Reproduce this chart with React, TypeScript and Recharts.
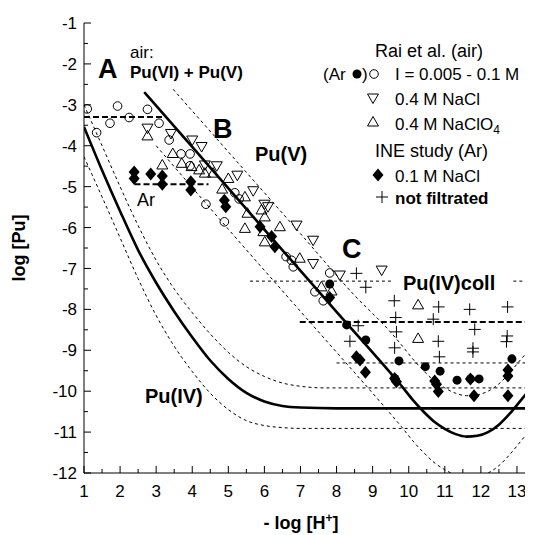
import { ComposedChart, XAxis, YAxis, Line, Scatter } from "recharts";

const font = '"Liberation Sans", Arial, sans-serif';

// tick positions (labels only on integers)
const xTicks = [1, 1.5, 2, 2.5, 3, 3.5, 4, 4.5, 5, 5.5, 6, 6.5, 7, 7.5, 8, 8.5, 9, 9.5, 10, 10.5, 11, 11.5, 12, 12.5, 13, 13.5];
const yTicks = [-12, -11.5, -11, -10.5, -10, -9.5, -9, -8.5, -8, -7.5, -7, -6.5, -6, -5.5, -5, -4.5, -4, -3.5, -3, -2.5, -2, -1.5, -1];

// Rai et al. (air), I = 0.005 - 0.1 M
const circlesAir = [[1.09, -3.1], [1.35, -3.68], [1.72, -3.45], [1.93, -3.03], [2.25, -3.31], [2.76, -3.11], [3.08, -3.45], [3.36, -3.86], [3.69, -4.2], [3.94, -4.2], [3.94, -4.49], [4.38, -5.43], [4.89, -5.86], [5.18, -5.15], [5.3, -5.3], [6.6, -6.71], [6.75, -6.8], [6.8, -6.96], [7.81, -7.11], [7.4, -7.57], [7.63, -7.79]];
// same, under Ar
const circlesAr = [[7.81, -7.38], [8.28, -8.38], [8.81, -8.75], [9.73, -9.26], [9.61, -9.69], [10.46, -9.4], [10.87, -9.51], [11.34, -9.73], [11.71, -9.7], [11.95, -9.7], [12.86, -9.21]];
// 0.4 M NaCl
const triDownNaCl = [[2.76, -3.57], [3.41, -3.7], [4.0, -3.86], [4.26, -4.02], [4.35, -4.47], [4.68, -4.49], [5.25, -4.72], [5.69, -5.1], [6.0, -5.43], [6.1, -5.49], [6.89, -5.94], [7.35, -6.31], [7.35, -6.88], [8.09, -7.16], [9.25, -7.04]];
// 0.4 M NaClO4
const triUpClO4 = [[2.76, -3.76], [3.17, -4.47], [3.46, -4.19], [3.71, -4.43], [3.98, -4.51], [4.19, -4.59], [4.35, -4.67], [4.58, -4.67], [5.0, -4.8], [4.83, -5.06], [5.46, -5.25], [5.53, -5.65], [5.46, -6.02], [5.92, -5.57], [5.97, -6.1], [6.01, -6.35], [6.01, -5.74], [6.43, -5.98], [6.98, -6.75], [7.58, -7.45], [7.86, -7.55], [10.26, -7.89], [10.26, -8.71]];
// INE study, 0.1 M NaCl
const diamondsIne = [[2.39, -4.64], [2.39, -4.8], [2.85, -4.69], [3.17, -4.74], [3.17, -4.94], [3.96, -4.88], [3.96, -5.08], [4.89, -5.33], [4.93, -5.49], [5.88, -5.98], [6.2, -6.22], [6.29, -6.47], [7.81, -7.71], [8.55, -9.16], [8.65, -9.24], [8.8, -9.54], [9.61, -9.69], [9.66, -9.77], [10.72, -9.75], [10.77, -9.83], [10.82, -10.01], [11.71, -9.7], [11.81, -10.11], [12.75, -9.48], [12.75, -9.63], [12.75, -10.11]];
// not filtrated
const plusNotFiltrated = [[8.55, -7.12], [8.81, -7.46], [8.6, -8.4], [8.37, -8.78], [9.6, -7.79], [9.64, -8.2], [9.66, -8.55], [9.61, -8.94], [10.83, -7.94], [10.68, -8.24], [10.82, -8.78], [10.85, -9.16], [11.69, -8.0], [11.83, -8.49], [11.78, -8.95], [11.78, -9.04], [12.74, -7.94], [12.73, -8.65], [12.71, -8.79]];

// model curves
const puVCurve = [[2.67, -2.69], [4, -4.03], [6, -6.05], [8, -8.06], [9.5, -9.56], [9.8, -9.87], [10.1, -10.2], [10.4, -10.49], [10.7, -10.74], [11.0, -10.92], [11.3, -11.05], [11.6, -11.11], [11.9, -11.09], [12.2, -11.0], [12.5, -10.82], [12.8, -10.55], [13.1, -10.23], [13.5, -9.8]];
const puVUpper = [[3.47, -2.62], [5, -4.15], [7, -6.15], [8.5, -7.66], [9.5, -8.56], [9.8, -8.87], [10.1, -9.2], [10.4, -9.49], [10.7, -9.74], [11.0, -9.92], [11.3, -10.05], [11.6, -10.11], [11.9, -10.09], [12.2, -10.0], [12.5, -9.82], [12.8, -9.55], [13.1, -9.23], [13.5, -8.85]];
const puVLower = [[3.0, -4.0], [5, -6.04], [7, -8.05], [9.5, -10.56], [9.8, -10.87], [10.1, -11.2], [10.4, -11.49], [10.7, -11.74], [11.0, -11.92], [11.3, -12.05], [11.6, -12.11], [11.9, -12.09], [12.2, -12.0], [12.5, -11.82], [12.8, -11.55], [13.1, -11.23], [13.5, -10.8]];
const puIVCurve = [[1.0, -3.54], [1.5, -4.6], [2.0, -5.6], [2.5, -6.55], [3.0, -7.35], [3.5, -8.05], [4.0, -8.68], [4.5, -9.25], [5.0, -9.7], [5.5, -10.04], [6.0, -10.25], [6.5, -10.36], [7.0, -10.4], [8.0, -10.42], [13.5, -10.42]];
const puIVUpper = [[1.0, -3.0], [1.5, -4.0], [2.0, -5.0], [2.5, -5.95], [3.0, -6.8], [3.5, -7.5], [4.0, -8.08], [4.5, -8.6], [5.0, -9.05], [5.5, -9.4], [6.0, -9.64], [6.5, -9.8], [7.0, -9.88], [7.7, -9.92], [13.5, -9.92]];
const puIVLower = [[1.0, -4.27], [1.5, -5.25], [2.0, -6.25], [2.5, -7.25], [3.0, -8.15], [3.5, -8.9], [4.0, -9.52], [4.5, -10.05], [5.0, -10.45], [5.5, -10.72], [6.0, -10.84], [6.5, -10.89], [7.0, -10.91], [13.5, -10.91]];
const airLevel = [[1, -3.3], [3.2, -3.3]];
const arLevel = [[2.4, -4.94], [4.45, -4.94]];
const collMean = [[6.98, -8.31], [13.5, -8.31]];
const collUpperA = [[5.6, -7.31], [9.57, -7.31]];
const collUpperB = [[12.9, -7.31], [13.5, -7.31]];
const collLower = [[8.0, -9.31], [13.5, -9.31]];

const pts = (a: number[][]) => a.map(([x, y]) => ({ x, y }));

const OpenCircle = ({ cx, cy }: any) => <circle cx={cx} cy={cy} r={4.3} fill="none" stroke="#000" strokeWidth={1} />;
const FilledCircle = ({ cx, cy }: any) => <circle cx={cx} cy={cy} r={4.5} fill="#000" />;
const TriDown = ({ cx, cy }: any) => (
  <path d={`M${cx - 5.5},${cy - 4} L${cx + 5.5},${cy - 4} L${cx},${cy + 5.5} Z`} fill="none" stroke="#000" strokeWidth={1} />
);
const TriUp = ({ cx, cy }: any) => (
  <path d={`M${cx - 5.5},${cy + 4} L${cx + 5.5},${cy + 4} L${cx},${cy - 5.5} Z`} fill="none" stroke="#000" strokeWidth={1} />
);
const Diamond = ({ cx, cy }: any) => (
  <path d={`M${cx},${cy - 6.5} L${cx + 5.5},${cy} L${cx},${cy + 6.5} L${cx - 5.5},${cy} Z`} fill="#000" />
);
const Plus = ({ cx, cy }: any) => (
  <path d={`M${cx - 6},${cy} L${cx + 6},${cy} M${cx},${cy - 6} L${cx},${cy + 6}`} stroke="#000" strokeWidth={1} />
);

const BottomTick = ({ x, y, payload }: any) => {
  const major = Number.isInteger(payload.value);
  return (
    <g>
      <line x1={x} y1={y} x2={x} y2={y - (major ? 7 : 4)} stroke="#000" />
      {major && (
        <text x={x} y={y + 24} textAnchor="middle" fontSize={17} fontFamily={font} fill="#000">
          {payload.value}
        </text>
      )}
    </g>
  );
};
const TopTick = ({ x, y, payload }: any) => {
  const major = Number.isInteger(payload.value);
  return <line x1={x} y1={y} x2={x} y2={y + (major ? 7 : 4)} stroke="#000" />;
};
const LeftTick = ({ x, y, payload }: any) => {
  const major = Number.isInteger(payload.value);
  return (
    <g>
      <line x1={x} y1={y} x2={x + (major ? 7 : 4)} y2={y} stroke="#000" />
      {major && (
        <text x={x - 7} y={y} dy="0.36em" textAnchor="end" fontSize={17} fontFamily={font} fill="#000">
          {payload.value}
        </text>
      )}
    </g>
  );
};
const RightTick = ({ x, y, payload }: any) => {
  const major = Number.isInteger(payload.value);
  return <line x1={x} y1={y} x2={x - (major ? 7 : 4)} y2={y} stroke="#000" />;
};

const thin = { stroke: "#000", strokeWidth: 1, strokeDasharray: "3 3" };
const bold = { stroke: "#000", strokeWidth: 2, strokeDasharray: "6 3" };

export default function App() {
  const curve = (data: number[][], style: any, type: any = "monotone") => (
    <Line data={pts(data)} dataKey="y" type={type} dot={false} activeDot={false} isAnimationActive={false} {...style} />
  );
  return (
    <div style={{ position: "relative", width: 525, height: 527, overflow: "hidden", fontFamily: font }}>
      <ComposedChart width={540} height={527} margin={{ top: 15, right: 13, bottom: 22, left: 16 }}>
        <XAxis dataKey="x" type="number" domain={[1, 13.5]} ticks={xTicks} interval={0} allowDataOverflow
          tickSize={0} tickMargin={0} tickLine={false} tick={<BottomTick />} axisLine={{ stroke: "#000" }} height={40} />
        <XAxis xAxisId="top" orientation="top" type="number" domain={[1, 13.5]} ticks={xTicks} interval={0}
          tickSize={0} tickMargin={0} tickLine={false} tick={<TopTick />} axisLine={{ stroke: "#000" }} height={0} />
        <YAxis dataKey="y" type="number" domain={[-12, -1]} ticks={yTicks} interval={0} allowDataOverflow
          tickSize={0} tickMargin={0} tickLine={false} tick={<LeftTick />} axisLine={{ stroke: "#000" }} width={60} />
        <YAxis yAxisId="right" orientation="right" type="number" domain={[-12, -1]} ticks={yTicks} interval={0}
          tickSize={0} tickMargin={0} tickLine={false} tick={<RightTick />} axisLine={{ stroke: "#000" }} width={0} />

        {curve(puIVUpper, thin)}
        {curve(puIVLower, thin)}
        {curve(puVUpper, thin)}
        {curve(puVLower, thin)}
        {curve(collUpperA, thin, "linear")}
        {curve(collUpperB, thin, "linear")}
        {curve(collLower, thin, "linear")}
        {curve(collMean, bold, "linear")}
        {curve(airLevel, bold, "linear")}
        {curve(arLevel, bold, "linear")}
        {curve(puIVCurve, { stroke: "#000", strokeWidth: 2.6 })}
        {curve(puVCurve, { stroke: "#000", strokeWidth: 2.6 })}

        <Scatter data={pts(circlesAir)} shape={<OpenCircle />} isAnimationActive={false} />
        <Scatter data={pts(triDownNaCl)} shape={<TriDown />} isAnimationActive={false} />
        <Scatter data={pts(triUpClO4)} shape={<TriUp />} isAnimationActive={false} />
        <Scatter data={pts(plusNotFiltrated)} shape={<Plus />} isAnimationActive={false} />
        <Scatter data={pts(circlesAr)} shape={<FilledCircle />} isAnimationActive={false} />
        <Scatter data={pts(diamondsIne)} shape={<Diamond />} isAnimationActive={false} />
      </ComposedChart>

      <svg width={525} height={527} style={{ position: "absolute", left: 0, top: 0, pointerEvents: "none" }} fontFamily={font}>
        <text x={90} y={70} fontSize={27} fontWeight="bold">A</text>
        <text x={122} y={50} fontSize={17}>air:</text>
        <text x={122} y={70} fontSize={17} fontWeight="bold">Pu(VI) + Pu(V)</text>
        <text x={205} y={130} fontSize={27} fontWeight="bold">B</text>
        <text x={247} y={153} fontSize={20} fontWeight="bold">Pu(V)</text>
        <text x={334} y={250} fontSize={27} fontWeight="bold">C</text>
        <text x={395} y={282} fontSize={20} fontWeight="bold">Pu(IV)coll</text>
        <text x={137} y={395} fontSize={20} fontWeight="bold">Pu(IV)</text>
        <text x={129} y={198} fontSize={18}>Ar</text>

        <text x={367} y={49} fontSize={18}>Rai et al. (air)</text>
        <text x={315} y={72} fontSize={17}>(Ar</text>
        <FilledCircle cx={349} cy={66} />
        <text x={354} y={72} fontSize={17}>)</text>
        <OpenCircle cx={366} cy={66} />
        <text x={387} y={72} fontSize={17}>I = 0.005 - 0.1 M</text>
        <TriDown cx={365} cy={90} />
        <text x={387} y={97} fontSize={17}>0.4 M NaCl</text>
        <TriUp cx={365} cy={114} />
        <text x={387} y={122} fontSize={17}>0.4 M NaClO<tspan fontSize={12} dy={4}>4</tspan></text>
        <text x={367} y={149} fontSize={18}>INE study (Ar)</text>
        <Diamond cx={370} cy={167} />
        <text x={387} y={174} fontSize={17}>0.1 M NaCl</text>
        <Plus cx={374} cy={189} />
        <text x={387} y={196} fontSize={17} fontWeight="bold">not filtrated</text>

        <text transform="translate(17,240) rotate(-90)" textAnchor="middle" fontSize={18} fontWeight="bold">log [Pu]</text>
        <text x={293} y={521} textAnchor="middle" fontSize={18} fontWeight="bold">- log [H<tspan fontSize={12} dy={-7}>+</tspan><tspan dy={7}>]</tspan></text>
      </svg>
    </div>
  );
}
